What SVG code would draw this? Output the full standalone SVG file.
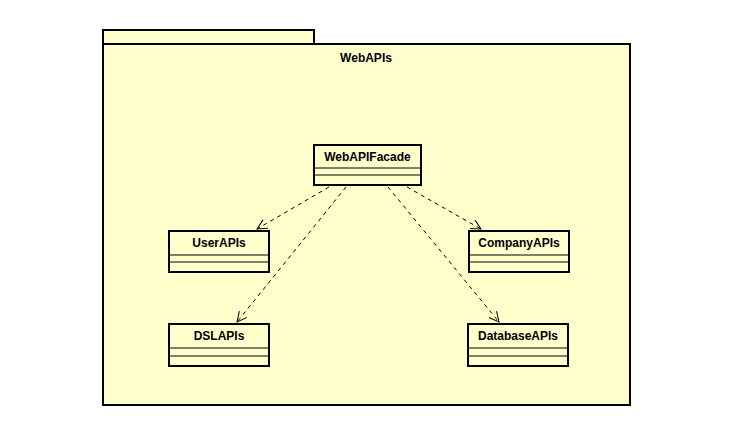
<svg xmlns="http://www.w3.org/2000/svg" width="754" height="438" viewBox="0 0 754 438">
<style>
.pk{fill:#ffffcc;stroke:#000;stroke-width:2}
.cls rect{fill:#ffffcc;stroke:#000;stroke-width:2}
.cls line{stroke:#000;stroke-width:1}
text{font-family:"Liberation Sans",Arial,sans-serif;font-weight:bold;font-size:12px;fill:#000;text-anchor:middle}
.dep{stroke:#000;stroke-width:1;stroke-dasharray:4,4;fill:none}
</style>
<defs>
<marker id="open" markerWidth="12" markerHeight="12" refX="10" refY="5" orient="auto" markerUnits="userSpaceOnUse">
<path d="M0,0 L10,5 L0,10" fill="none" stroke="#000" stroke-width="1"/>
</marker>
</defs>
<rect width="754" height="438" fill="#fff"/>
<g id="pkg-WebAPIs">
<rect class="pk" x="103" y="30" width="211" height="14"/>
<rect class="pk" x="103" y="44" width="527" height="361"/>
<text x="366" y="62">WebAPIs</text>
</g>
<g id="connectors">
<line class="dep" x1="329" y1="187" x2="257" y2="229" marker-end="url(#open)"/>
<line class="dep" x1="346" y1="187" x2="237" y2="322" marker-end="url(#open)"/>
<line class="dep" x1="407" y1="187" x2="481" y2="229" marker-end="url(#open)"/>
<line class="dep" x1="388" y1="187" x2="499" y2="322" marker-end="url(#open)"/>
</g>
<g id="WebAPIFacade" class="cls">
<rect x="314" y="145" width="107" height="40"/>
<line x1="314" y1="168" x2="421" y2="168"/>
<line x1="314" y1="175" x2="421" y2="175"/>
<text x="367.5" y="161">WebAPIFacade</text>
</g>
<g id="UserAPIs" class="cls">
<rect x="169" y="231" width="100" height="41"/>
<line x1="169" y1="255" x2="269" y2="255"/>
<line x1="169" y1="262" x2="269" y2="262"/>
<text x="219" y="247">UserAPIs</text>
</g>
<g id="CompanyAPIs" class="cls">
<rect x="469" y="231" width="100" height="41"/>
<line x1="469" y1="255" x2="569" y2="255"/>
<line x1="469" y1="262" x2="569" y2="262"/>
<text x="519" y="247">CompanyAPIs</text>
</g>
<g id="DSLAPIs" class="cls">
<rect x="169" y="324" width="100" height="42"/>
<line x1="169" y1="348" x2="269" y2="348"/>
<line x1="169" y1="356" x2="269" y2="356"/>
<text x="219" y="340">DSLAPIs</text>
</g>
<g id="DatabaseAPIs" class="cls">
<rect x="468" y="324" width="100" height="42"/>
<line x1="468" y1="348" x2="568" y2="348"/>
<line x1="468" y1="356" x2="568" y2="356"/>
<text x="518" y="340">DatabaseAPIs</text>
</g>
</svg>
